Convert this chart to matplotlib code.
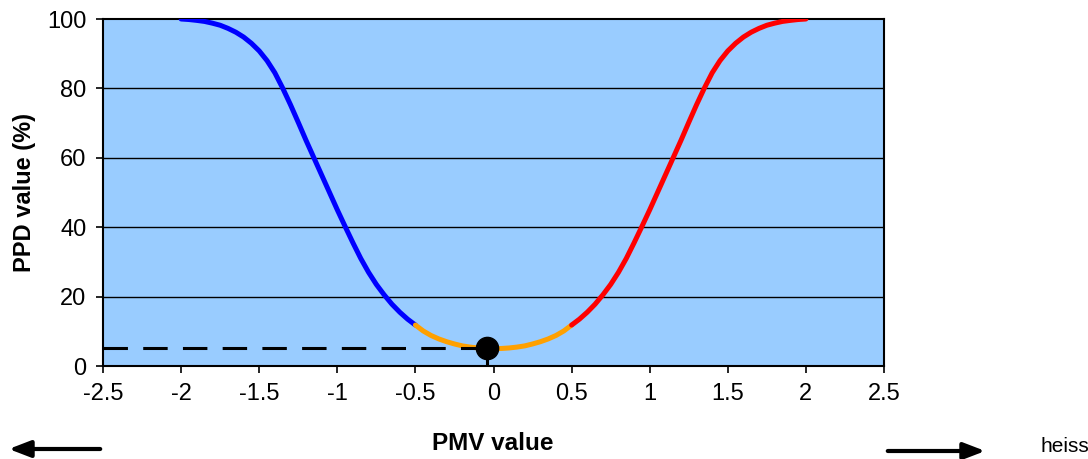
import numpy as np
import matplotlib
matplotlib.use('Agg')
import matplotlib.pyplot as plt
from matplotlib.patches import FancyArrowPatch

plt.rcParams['font.family'] = ['Liberation Sans', 'DejaVu Sans']

# PMV / PPD Kurve (rechte Haelfte, symmetrisch)
pmv_half = [0.0, 0.05, 0.1, 0.15, 0.2, 0.25, 0.3, 0.35, 0.4, 0.45, 0.5,
            0.55, 0.6, 0.65, 0.7, 0.75, 0.8, 0.85, 0.9, 0.95, 1.0,
            1.05, 1.1, 1.15, 1.2, 1.25, 1.3, 1.35, 1.4, 1.45, 1.5,
            1.55, 1.6, 1.65, 1.7, 1.75, 1.8, 1.85, 1.9, 1.95, 2.0]
ppd_half = [5.0, 5.05, 5.2, 5.45, 5.8, 6.35, 7.0, 7.8, 8.8, 10.1, 11.8,
            13.5, 15.5, 17.8, 20.5, 23.5, 27.0, 31.0, 35.5, 40.2, 45.0,
            50.0, 55.0, 60.0, 65.0, 70.2, 75.3, 80.1, 84.5, 88.0, 90.8,
            93.0, 94.8, 96.2, 97.3, 98.2, 98.8, 99.3, 99.6, 99.85, 100.0]

# Messpunkt
point_pmv = -0.04
point_ppd = 5.2

x_ticks = [-2.5, -2, -1.5, -1, -0.5, 0, 0.5, 1, 1.5, 2, 2.5]
x_ticklabels = ['-2.5', '-2', '-1.5', '-1', '-0.5', '0', '0.5', '1', '1.5', '2', '2.5']
y_ticks = [0, 20, 40, 60, 80, 100]

pmv = np.array([-v for v in pmv_half[::-1]] + pmv_half[1:])
ppd = np.array(ppd_half[::-1] + ppd_half[1:])

fig = plt.figure(figsize=(10.88, 4.59), dpi=100)
ax = fig.add_axes([0.0947, 0.2026, 0.7178, 0.756])
ax.set_facecolor('#99CCFF')

for y in y_ticks[1:-1]:
    ax.axhline(y, color='black', lw=1, zorder=1)

blue = pmv <= -0.5
orange = (pmv >= -0.5) & (pmv <= 0.5)
red = pmv >= 0.5
ax.plot(pmv[blue], ppd[blue], color='#0000FF', lw=3.6, solid_capstyle='round',
        solid_joinstyle='round', zorder=3)
ax.plot(pmv[orange], ppd[orange], color='#FFA000', lw=3.6, solid_capstyle='round',
        solid_joinstyle='round', zorder=3)
ax.plot(pmv[red], ppd[red], color='#FF0000', lw=3.6, solid_capstyle='round',
        solid_joinstyle='round', zorder=3)

# gestrichelte Hilfslinien zum Punkt
ax.plot([-2.5, point_pmv], [point_ppd, point_ppd], color='black', lw=2.2,
        dashes=(8, 5), zorder=4)
ax.plot([point_pmv, point_pmv], [0, point_ppd], color='black', lw=2.2,
        dashes=(8, 5), zorder=4)
ax.plot(point_pmv, point_ppd, 'o', color='black', ms=16, zorder=5)

ax.set_xlim(-2.5, 2.5)
ax.set_ylim(0, 100)
ax.set_xticks(x_ticks)
ax.set_xticklabels(x_ticklabels)
ax.set_yticks(y_ticks)
ax.tick_params(axis='both', direction='out', length=5, width=1.2, labelsize=17, pad=7)
for s in ax.spines.values():
    s.set_color('black')
    s.set_linewidth(1.5)

ax.set_ylabel('PPD value (%)', fontsize=17, fontweight='bold', labelpad=8)
fig.text(493 / 1088, 1 - 443 / 459, 'PMV value', fontsize=17.5, fontweight='bold',
         ha='center', va='center')
fig.text(1040 / 1088, 1 - 447 / 459, 'heiss', fontsize=15, ha='left', va='center')

# Pfeile unten
arr_l = FancyArrowPatch((103, 10), (6, 10), transform=None,
                        arrowstyle='-|>,head_length=13,head_width=5',
                        color='black', lw=3, mutation_scale=1)
arr_r = FancyArrowPatch((885, 8), (988, 8), transform=None,
                        arrowstyle='-|>,head_length=13,head_width=5',
                        color='black', lw=3, mutation_scale=1)
fig.add_artist(arr_l)
fig.add_artist(arr_r)

fig.savefig('out.png', dpi=100)
